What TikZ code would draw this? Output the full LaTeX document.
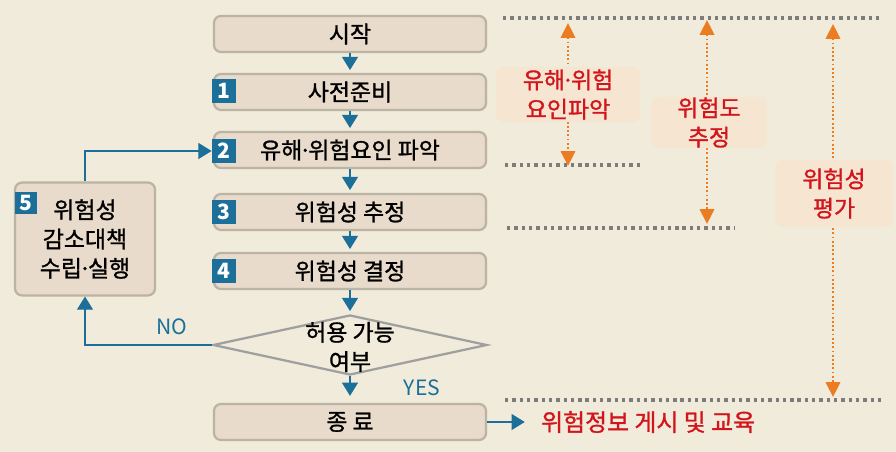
\documentclass[tikz,border=0pt]{standalone}
\usepackage{fontspec}
\setmainfont{Noto Sans CJK KR}
\newfontfamily\kheavy{Noto Sans CJK KR}[FakeBold=1.2]
\usetikzlibrary{shapes.geometric,arrows.meta}
\definecolor{bgcream}{HTML}{F0EBDA}
\definecolor{boxfill}{HTML}{E9DBCB}
\definecolor{boxline}{HTML}{BBB3A4}
\definecolor{flowblue}{HTML}{1C6F98}
\definecolor{markorange}{HTML}{EC7C22}
\definecolor{labelred}{HTML}{D2151C}
\definecolor{labelfill}{HTML}{F6E5D0}
\definecolor{dotgray}{HTML}{7C7C7C}
\newcommand{\kfont}{\kheavy\fontsize{16.3}{20.8}\selectfont}
\newcommand{\mdot}{\kern-0.15em·\kern-0.15em}

\begin{document}
\begin{tikzpicture}[x=0.025cm, y=-0.025cm, line width=0.6pt,
  stepbox/.style={draw=boxline, fill=boxfill, line width=1.6pt, rounded corners=5pt,
    minimum width=6.8cm, minimum height=0.9cm, inner sep=0pt, font=\kfont},
  numtag/.style={fill=flowblue, text=white, minimum size=0.6cm, inner sep=0pt,
    font=\fontsize{15}{15}\selectfont\bfseries},
  flow/.style={draw=flowblue, line width=0.8pt, -{Triangle[length=0.33cm, width=0.4cm]}},
  gridline/.style={draw=dotgray, line width=2.6pt, dash pattern=on 2.4pt off 2.8pt},
  span/.style={draw=markorange, line width=1.3pt, dash pattern=on 1.3pt off 1.7pt,
    {Triangle[length=0.37cm, width=0.36cm]}-{Triangle[length=0.37cm, width=0.36cm]}},
  labelbox/.style={fill=labelfill, rounded corners=6pt, text=labelred, font=\kfont,
    align=center, inner sep=0pt},
  flowtext/.style={text=flowblue, font=\fontsize{15}{15}\selectfont}]
  \fill[bgcream] (0,0) rectangle (896,452);
  \useasboundingbox (0,0) rectangle (896,452);

  % dotted guide lines
  \coordinate (g1a) at (503,18);  \coordinate (g1b) at (882,18);
  \coordinate (g2a) at (505,165); \coordinate (g2b) at (640,165);
  \coordinate (g3a) at (507,228); \coordinate (g3b) at (735,228);
  \coordinate (g4a) at (505,400); \coordinate (g4b) at (882,400);
  \draw[gridline] (g1a) -- (g1b);
  \draw[gridline] (g2a) -- (g2b);
  \draw[gridline] (g3a) -- (g3b);
  \draw[gridline] (g4a) -- (g4b);

  % ranges
  \coordinate (s1a) at (568,23);  \coordinate (s1b) at (568,166);
  \coordinate (s2a) at (707,20);  \coordinate (s2b) at (707,224);
  \coordinate (s3a) at (833,24);  \coordinate (s3b) at (833,397);
  \draw[span] (s1a) -- (s1b);
  \draw[span] (s2a) -- (s2b);
  \draw[span] (s3a) -- (s3b);
  \node[labelbox, minimum width=3.6cm, minimum height=1.38cm] (riskid) at (568,94.5) {유해\mdot 위험\\요인파악};
  \node[labelbox, minimum width=2.9cm, minimum height=1.28cm] (riskgrade) at (709,122.5) {위험도\\추정};
  \node[labelbox, minimum width=2.95cm, minimum height=1.68cm] (riskeval) at (834,193.5) {위험성\\평가};

  % flow
  \node[stepbox] (start) at (350,34) {시작};
  \node[stepbox] (prep) at (350,92) {사전준비};
  \node[stepbox] (ident) at (350,150) {유해\mdot 위험요인 파악};
  \node[stepbox] (est) at (350,212) {위험성 추정};
  \node[stepbox] (dec) at (350,271) {위험성 결정};
  \node[diamond, draw=gray!75, line width=1.6pt, minimum width=6.85cm, minimum height=1.5cm,
    inner sep=0pt] (ok) at (350,345) {};
  \node[font=\kfont, align=center, inner sep=0pt] (oktext) at (350,347) {허용 가능\\여부};
  \node[stepbox] (fin) at (350,422) {종 료};
  \node[stepbox, minimum width=3.5cm, minimum height=2.82cm, align=center] (fix) at (85,239) {위험성\\감소대책\\수립\mdot 실행};

  \node[numtag] (tag1) at (224,91) {1};
  \node[numtag] (tag2) at (224,151) {2};
  \node[numtag] (tag3) at (224,212) {3};
  \node[numtag] (tag4) at (224,271) {4};
  \node[numtag, minimum size=0.55cm] (tag5) at (26,203) {5};

  \draw[flow, shorten >=2pt] (start) -- (prep);
  \draw[flow, shorten >=2pt] (prep) -- (ident);
  \draw[flow, shorten >=2pt] (ident) -- (est);
  \draw[flow, shorten >=2pt] (est) -- (dec);
  \draw[flow, shorten >=2pt] (dec) -- (ok);
  \draw[flow, shorten >=5pt] (ok.south) -- (fin);
  \draw[flow] (ok.west) -| (fix.south);
  \draw[flow] (fix.north) |- (tag2.west);
  \node[text=labelred, font=\kheavy\fontsize{17}{20}\selectfont, anchor=west] (note) at (536,422) {위험정보 게시 및 교육};
  \draw[flow, shorten >=8pt] (fin.east) -- (note.west);

  \node[flowtext] (nolabel) at (172,327) {NO};
  \node[flowtext] (yeslabel) at (422,388) {YES};
\end{tikzpicture}
\end{document}
